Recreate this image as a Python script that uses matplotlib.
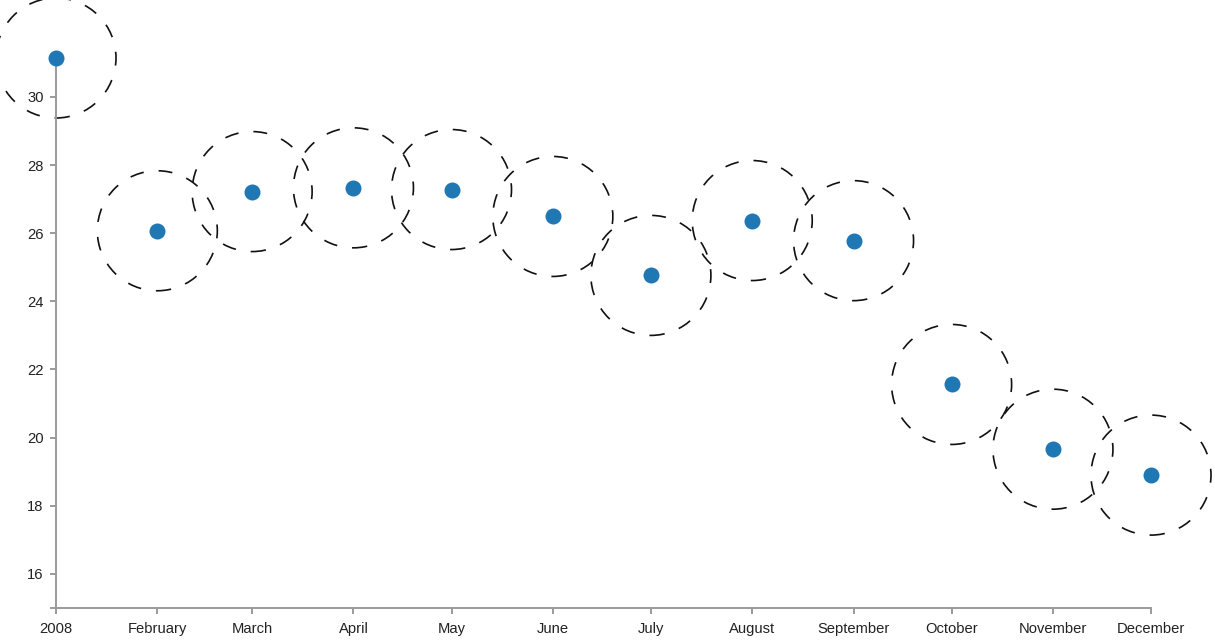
import matplotlib
matplotlib.use("Agg")
import matplotlib.pyplot as plt
import matplotlib.dates as mdates
import datetime as dt

months = ["2008", "February", "March", "April", "May", "June", "July",
          "August", "September", "October", "November", "December"]
values = [31.14, 26.07, 27.22, 27.33, 27.28, 26.49, 24.76, 26.37, 25.78,
          21.56, 19.66, 18.90]
dates = [dt.datetime(2008, m, 1) for m in range(1, 13)]
yticks = [16, 18, 20, 22, 24, 26, 28, 30]

plt.rcParams['font.family'] = ['Liberation Sans', 'DejaVu Sans']
plt.rcParams['lines.scale_dashes'] = False

W, H, DPI = 1215, 644, 100
fig = plt.figure(figsize=(W / DPI, H / DPI), dpi=DPI)
L, R, T, B = 56, 1151, 58, 608
ax = fig.add_axes([L / W, 1 - B / H, (R - L) / W, (B - T) / H])

x = mdates.date2num(dates)
ax.set_xlim(x[0], x[-1])
ax.set_ylim(15, max(values))

px2pt = 72 / DPI
ring_d = 120 * px2pt
ax.scatter(x, values, s=ring_d ** 2, facecolors='none', edgecolors='#111111',
           linewidths=1.2, linestyles=[(0, (10.0, 10.8))], clip_on=False, zorder=2)
dot_d = 16 * px2pt
ax.scatter(x, values, s=dot_d ** 2, color='#1f77b4', linewidths=0,
           clip_on=False, zorder=3)

axis_col = '#9a9a9a'
for s in ['top', 'right']:
    ax.spines[s].set_visible(False)
for s in ['left', 'bottom']:
    ax.spines[s].set_color(axis_col)
    ax.spines[s].set_linewidth(1.4)

ax.set_xticks(x)
ax.set_xticklabels(months)
ax.set_yticks(yticks)
ax.set_yticklabels([str(v) for v in yticks])
ax.set_yticks([15], minor=True)
ax.tick_params(axis='both', which='both', length=6 * px2pt, width=1.4,
               color=axis_col, labelsize=10.6, labelcolor='#222222')
ax.tick_params(axis='x', pad=6)
ax.tick_params(axis='y', pad=4.5)
ax.patch.set_alpha(0)

fig.savefig("out.png", dpi=DPI)
